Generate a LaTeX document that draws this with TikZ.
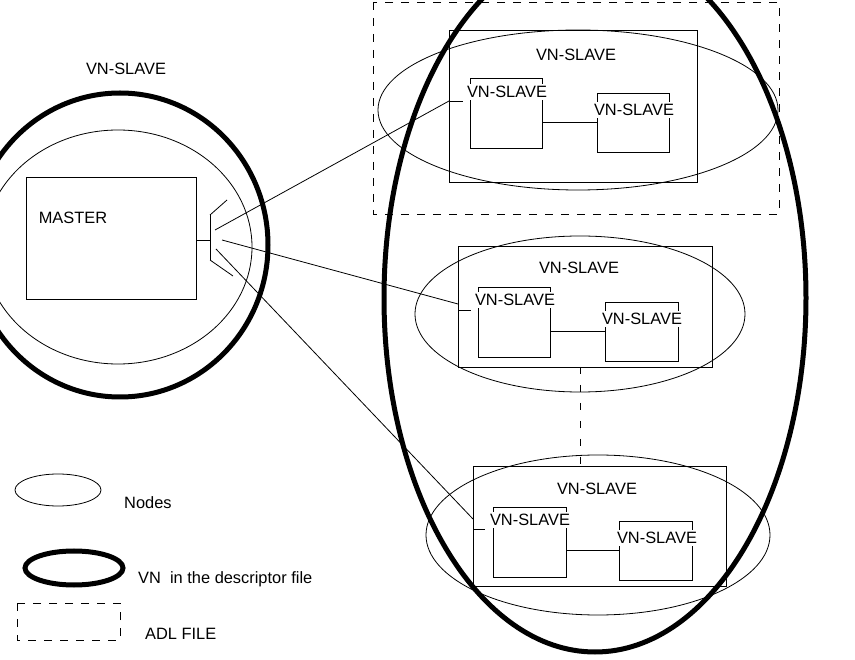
\documentclass[tikz,border=0pt]{standalone}
\usepackage{fontspec}
\setmainfont{Liberation Sans}
\usetikzlibrary{shapes.geometric}

\begin{document}
\begin{tikzpicture}[
            x=1pt, y=-1pt,
            thin line/.style={line width=0.8pt},
            vnline/.style={line width=5pt},
            nodeoval/.style={ellipse, draw, thin line, inner sep=0pt, outer sep=0pt},
            vnoval/.style={ellipse, draw, vnline, inner sep=0pt, outer sep=0pt},
            slavebox/.style={rectangle, draw, thin line, inner sep=0pt, outer sep=0pt},
            txt/.style={font=\fontsize{16.4}{19}\selectfont, inner sep=0pt},
            boxlbl/.style={txt, fill=white, inner ysep=2pt},
            adl/.style={thin line, dash pattern=on 8pt off 8pt}
        ]
            \useasboundingbox (0,0) rectangle (855,660);

            % left part: master
            \node[vnoval, minimum width=296pt, minimum height=304pt] (vnleft) at (120,245) {};
            \node[nodeoval, minimum width=268pt, minimum height=234pt] (ndleft) at (118,247) {};
            \node[txt] (lblleft) at (126,69) {VN-SLAVE};
            \node[slavebox, minimum width=170pt, minimum height=122pt] (master) at (111,238) {};
            \node[txt] (lblmaster) at (73,218) {MASTER};

            % right part: the big VN
            \node[vnoval, minimum width=422pt, minimum height=708pt] (vnright) at (595,298) {};
            \node[nodeoval, minimum width=400pt, minimum height=160pt] (ndtop) at (578,110) {};
            \node[nodeoval, minimum width=330pt, minimum height=156pt] (ndmid) at (580,314) {};
            \node[nodeoval, minimum width=344pt, minimum height=160pt] (ndbot) at (598,535) {};
            \draw[adl] (373,2) rectangle (779,214);

            % outer slave boxes
            \node[slavebox, minimum width=248pt, minimum height=152pt] (topgrp) at (573,106) {};
            \node[slavebox, minimum width=254pt, minimum height=121pt] (midgrp) at (585,306.5) {};
            \node[slavebox, minimum width=253pt, minimum height=120pt] (botgrp) at (599.5,526) {};
            \node[txt] (lbltop) at (576,55) {VN-SLAVE};
            \node[txt] (lblmid) at (579,268) {VN-SLAVE};
            \node[txt] (lblbot) at (597,489) {VN-SLAVE};

            % inner slave boxes
            \node[slavebox, minimum width=72pt, minimum height=70pt] (topa) at (506,113) {};
            \node[slavebox, minimum width=72pt, minimum height=59pt] (topb) at (633,122.5) {};
            \node[slavebox, minimum width=72pt, minimum height=70pt] (mida) at (514,322) {};
            \node[slavebox, minimum width=73pt, minimum height=59pt] (midb) at (641.5,331.5) {};
            \node[slavebox, minimum width=73pt, minimum height=70pt] (bota) at (529.5,542) {};
            \node[slavebox, minimum width=73pt, minimum height=59pt] (botb) at (655.5,550.5) {};
            \node[boxlbl] at (507,92) {VN-SLAVE};
            \node[boxlbl] at (634,110) {VN-SLAVE};
            \node[boxlbl] at (515,300) {VN-SLAVE};
            \node[boxlbl] at (642,319) {VN-SLAVE};
            \node[boxlbl] at (530,520) {VN-SLAVE};
            \node[boxlbl] at (657,538) {VN-SLAVE};

            \draw[thin line] (topb.west -| topa.east) -- (topb.west);
            \draw[thin line] (midb.west -| mida.east) -- (midb.west);
            \draw[thin line] (botb.west -| bota.east) -- (botb.west);
            \draw[thin line, dash pattern=on 7pt off 11pt] ([xshift=-5pt]midgrp.south) -- ([xshift=-5pt]midgrp.south |- botgrp.north);

            % master port and links
            \coordinate (port) at (210,240);
            \coordinate (porttop) at (210,215);
            \coordinate (portbot) at (210,260);
            \coordinate (pa) at (215,230);
            \coordinate (pb) at (222,240);
            \coordinate (pc) at (216,249);
            \draw[thin line] (master.east |- port) -- (port);
            \draw[thin line] (porttop) -- (portbot);
            \draw[thin line] (porttop) -- ++(17,-15);
            \draw[thin line] (portbot) -- ++(23,16);
            \draw[thin line] (pa) -- ([yshift=5pt]topgrp.west);
            \draw[thin line] (pb) -- ([yshift=2.5pt]midgrp.west);
            \draw[thin line] (pc) -- ([yshift=7pt]botgrp.west);
            \draw[thin line] ([yshift=5pt]topgrp.west) -- ++(14,0);
            \draw[thin line] ([yshift=-3.5pt]midgrp.west) -- ++(13,0);
            \draw[thin line] ([yshift=-3pt]botgrp.west) -- ++(12,0);

            % legend
            \node[nodeoval, minimum width=86pt, minimum height=32pt] (keynode) at (58,490) {};
            \node[vnoval, minimum width=98pt, minimum height=34pt] (keyvn) at (74,568) {};
            \draw[adl] (17,603) rectangle (120,640);
            \node[txt, anchor=west] (keynodetxt) at (124,503) {Nodes};
            \node[txt, anchor=west] (keyvntxt) at (138,579) {VN\ \ in the descriptor file};
            \node[txt, anchor=west] (keyadltxt) at (145,634) {ADL FILE};

        \end{tikzpicture}
\end{document}
